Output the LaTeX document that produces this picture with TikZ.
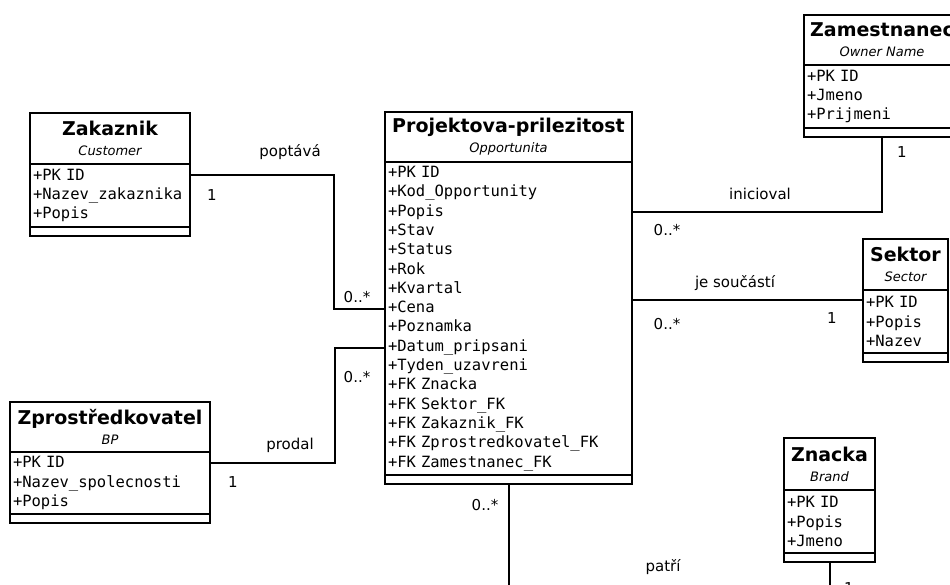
\documentclass[tikz,border=0pt]{standalone}
\usepackage{fontspec}
\setmainfont{DejaVu Sans}
\setmonofont{DejaVu Sans Mono}
\usetikzlibrary{positioning}
\newcommand{\clsname}[1]{{\fontsize{19}{22}\selectfont\bfseries #1}}
\newcommand{\clsnote}[1]{{\fontsize{13}{16}\selectfont\itshape #1}}

\begin{document}
\begin{tikzpicture}[x=1pt, y=-1pt,
  every node/.style={font=\fontsize{15}{18}\selectfont},
  umlhead/.style={draw, line width=2pt, outer sep=0pt, inner sep=0pt, align=center, minimum height=51pt, font=\fontsize{13}{20}\selectfont},
  umlattr/.style={draw, line width=2pt, outer sep=0pt, inner xsep=3pt, inner ysep=0pt, align=left, minimum height=63pt, font=\fontsize{15.5}{19.3}\selectfont\ttfamily},
  umlfoot/.style={draw, line width=2pt, outer sep=0pt, inner sep=0pt, minimum height=9pt},
  link/.style={line width=2pt}]
  \useasboundingbox (0,0) rectangle (950,584);
  \clip (0,0) rectangle (950,584);
  \node[umlhead, minimum width=160pt, anchor=north west] (zakHead) at (30,113) {\clsname{Zakaznik}\\\clsnote{Customer}};
  \node[umlattr, text width=154pt, below=0pt of zakHead] (zakAttr) {+PK ID\\+Nazev\_zakaznika\\+Popis};
  \node[umlfoot, minimum width=160pt, below=0pt of zakAttr] (zakFoot) {};
  \node[umlhead, minimum width=247pt, minimum height=50pt, anchor=north west] (oppHead) at (385,112) {\clsname{Projektova-prilezitost}\\\clsnote{Opportunita}};
  \node[umlattr, text width=241pt, minimum height=313pt, below=0pt of oppHead] (oppAttr) {+PK ID\\+Kod\_Opportunity\\+Popis\\+Stav\\+Status\\+Rok\\+Kvartal\\+Cena\\+Poznamka\\+Datum\_pripsani\\+Tyden\_uzavreni\\+FK Znacka\\+FK Sektor\_FK\\+FK Zakaznik\_FK\\+FK Zprostredkovatel\_FK\\+FK Zamestnanec\_FK};
  \node[umlfoot, minimum width=247pt, below=0pt of oppAttr] (oppFoot) {};
  \node[umlhead, minimum width=200pt, minimum height=50pt, anchor=north west] (zprHead) at (10,402) {\clsname{Zprostředkovatel}\\\clsnote{BP}};
  \node[umlattr, text width=194pt, minimum height=62pt, below=0pt of zprHead] (zprAttr) {+PK ID\\+Nazev\_spolecnosti\\+Popis};
  \node[umlfoot, minimum width=200pt, below=0pt of zprAttr] (zprFoot) {};
  \node[umlhead, minimum width=156pt, minimum height=50pt, anchor=north west] (zamHead) at (804,15) {\clsname{Zamestnanec}\\\clsnote{Owner Name}};
  \node[umlattr, text width=150pt, below=0pt of zamHead] (zamAttr) {+PK ID\\+Jmeno\\+Prijmeni};
  \node[umlfoot, minimum width=156pt, below=0pt of zamAttr] (zamFoot) {};
  \node[umlhead, minimum width=85pt, anchor=north west] (sekHead) at (863,239) {\clsname{Sektor}\\\clsnote{Sector}};
  \node[umlattr, text width=79pt, below=0pt of sekHead] (sekAttr) {+PK ID\\+Popis\\+Nazev};
  \node[umlfoot, minimum width=85pt, below=0pt of sekAttr] (sekFoot) {};
  \node[umlhead, minimum width=91pt, minimum height=52pt, anchor=north west] (znaHead) at (784,438) {\clsname{Znacka}\\\clsnote{Brand}};
  \node[umlattr, text width=85pt, below=0pt of znaHead] (znaAttr) {+PK ID\\+Popis\\+Jmeno};
  \node[umlfoot, minimum width=91pt, below=0pt of znaAttr] (znaFoot) {};
  \coordinate (oppCena) at ([yshift=-147pt]oppAttr.north west);
  \coordinate (oppDatum) at ([yshift=-186pt]oppAttr.north west);
  \coordinate (oppInic) at ([yshift=-50pt]oppAttr.north east);
  \coordinate (sekIn) at ([yshift=-10pt]sekAttr.north west);
  \draw[link] ([yshift=-11pt]zakAttr.north east) -| ([xshift=-51pt]oppCena) -- (oppCena);
  \draw[link] ([yshift=-11pt]zprAttr.north east) -| ([xshift=-50pt]oppDatum) -- (oppDatum);
  \draw[link] (zamFoot.south) |- (oppInic);
  \draw[link] (sekIn) -- (sekIn -| oppAttr.east);
  \draw[link] (oppFoot.south) -- ++(0,120) -| (znaFoot.south);
  \node (lPoptava) at (290,152) {poptává};
  \node (mZak) at (212,195) {1};
  \node (mOppZak) at (357,297) {0..*};
  \node (mOppZpr) at (357,377) {0..*};
  \node (lProdal) at (290,445) {prodal};
  \node (mZpr) at (233,482) {1};
  \node (lInic) at (760,194) {inicioval};
  \node (mOppZam) at (667,230) {0..*};
  \node (mZam) at (902,152) {1};
  \node (lSoucast) at (735,283) {je součástí};
  \node (mOppSek) at (667,324) {0..*};
  \node (mSek) at (832,318) {1};
  \node (mOppZna) at (485,505) {0..*};
  \node (lPatri) at (663,567) {patří};
  \node (mZna) at (849,588) {1};
\end{tikzpicture}
\end{document}
